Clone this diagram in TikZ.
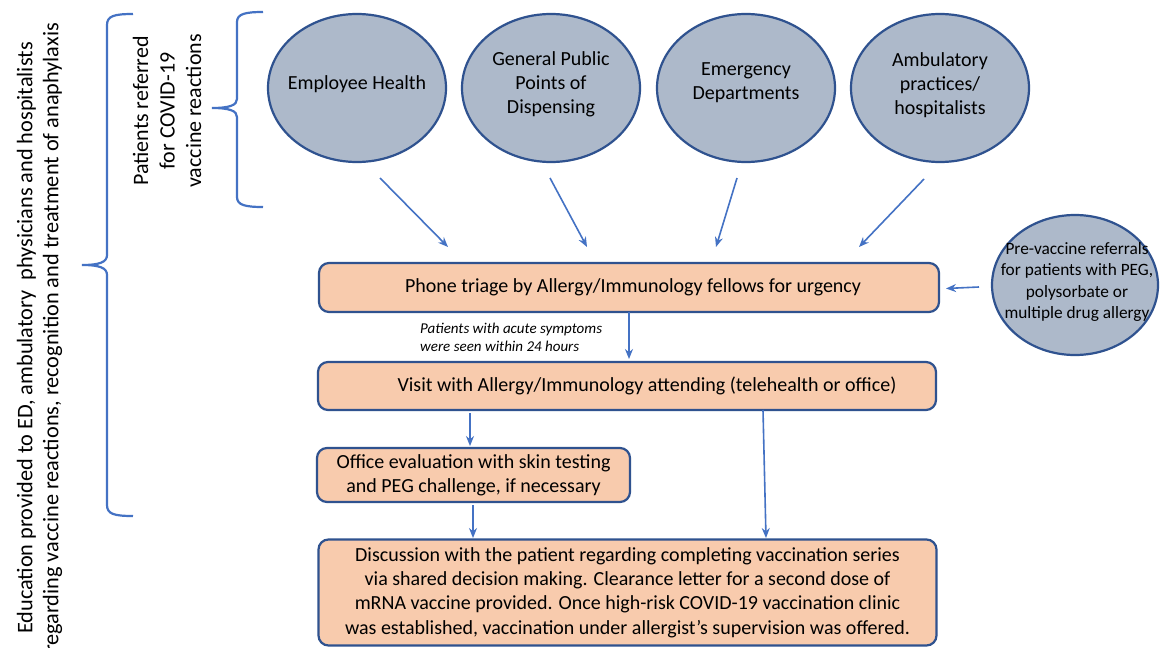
\documentclass[tikz,border=0pt]{standalone}
\usepackage{fontspec}
\setmainfont{Carlito}
\usetikzlibrary{shapes.geometric,arrows.meta}
\definecolor{ellfill}{HTML}{ADB9CA}
\definecolor{edgeblue}{HTML}{2F528F}
\definecolor{boxfill}{HTML}{F8CBAD}
\definecolor{arrblue}{HTML}{4472C4}
\begin{document}
\begin{tikzpicture}[x=1pt,y=-1pt,
  src/.style={ellipse,draw=edgeblue,line width=2.2pt,fill=ellfill,minimum width=178pt,minimum height=148pt,inner sep=0pt},
  srctext/.style={align=center,inner sep=0pt,font=\fontsize{20}{24}\selectfont},
  stepbox/.style={rectangle,rounded corners=10pt,draw=edgeblue,line width=2.2pt,fill=boxfill,inner sep=0pt,align=center,font=\fontsize{20}{24.3}\selectfont},
  arr/.style={draw=arrblue,line width=1.6pt,-{Stealth[length=10pt,width=8pt]}},
  brace/.style={draw=arrblue,line width=2.2pt}
]
\useasboundingbox (0,0) rectangle (1160,648);
\fill[white] (0,0) rectangle (1160,648);

% left texts
\node[rotate=90,align=center,inner sep=0pt,font=\fontsize{22.3}{26}\selectfont] (edu) at (39.5,338)
  {Education provided to ED, ambulatory\ \ physicians and hospitalists\\regarding vaccine reactions, recognition and treatment of anaphylaxis};
\node[rotate=90,align=center,inner sep=0pt,font=\fontsize{22}{26.5}\selectfont] (pat) at (167,111)
  {Patients referred\\for COVID-19\\vaccine reactions};

% braces
\draw[brace] (133,14) .. controls (114,14) and (107,16) .. (107,25) -- (107,255)
  .. controls (107,262) and (100,265) .. (82,265)
  .. controls (100,265) and (107,268) .. (107,275) -- (107,505)
  .. controls (107,514) and (114,516) .. (133,516);
\draw[brace] (263,12) .. controls (245,12) and (237,14) .. (237,22) -- (237,99)
  .. controls (237,105) and (230,108) .. (212,108)
  .. controls (230,108) and (237,111) .. (237,117) -- (237,197)
  .. controls (237,205) and (245,207) .. (263,207);

% source ellipses
\node[src] (eh) at (357,88) {};
\node[srctext] (ehT) at (357,84) {Employee Health};
\node[src] (gp) at (551,88) {};
\node[srctext] (gpT) at (551,84) {General Public\\Points of\\Dispensing};
\node[src] (ed) at (746,88) {};
\node[srctext] (edT) at (746,83) {Emergency\\Departments};
\node[src] (ap) at (940,88) {};
\node[srctext] (apT) at (940,85.5) {Ambulatory\\practices/\\hospitalists};
\node[src,minimum width=166pt,minimum height=140pt] (pre) at (1075,285) {};
\node[srctext,font=\fontsize{17.3}{21.5}\selectfont] (preT) at (1077,282)
  {Pre-vaccine referrals\\for patients with PEG,\\polysorbate or\\multiple drug allergy};

% boxes
\node[stepbox,minimum width=620pt,minimum height=49pt] (phone) at (629,287.5)
  {\hspace*{8pt}Phone triage by Allergy/Immunology fellows for urgency};
\node[stepbox,minimum width=618pt,minimum height=48pt] (visit) at (627,386)
  {\hspace*{40pt}Visit with Allergy/Immunology attending (telehealth or office)};
\node[stepbox,minimum width=313pt,minimum height=54pt] (office) at (473.5,475)
  {Office evaluation with skin testing\\and PEG challenge, if necessary};
\node[stepbox,minimum width=618pt,minimum height=106pt] (disc) at (627.5,592.5)
  {Discussion with the patient regarding completing vaccination series\\via shared decision making. Clearance letter for a second dose of\\mRNA vaccine provided. Once high-risk COVID-19 vaccination clinic\\was established, vaccination under allergist’s supervision was offered.};

\node[align=left,anchor=west,inner sep=0pt,font=\itshape\fontsize{15}{17.5}\selectfont] (note) at (420,337.5)
  {Patients with acute symptoms\\were seen within 24 hours};

% connectors
\coordinate (a1s) at (380,178); \coordinate (a1e) at (448,247);
\coordinate (a2s) at (550,178); \coordinate (a2e) at (587,247);
\coordinate (a3s) at (737,178); \coordinate (a3e) at (716,247);
\coordinate (a4s) at (924,179); \coordinate (a4e) at (859,247);
\draw[arr] (a1s) -- (a1e);
\draw[arr] (a2s) -- (a2e);
\draw[arr] (a3s) -- (a3e);
\draw[arr] (a4s) -- (a4e);
\coordinate (p1) at (979,287); \coordinate (p2) at (946,288.5);
\draw[arr] (p1) -- (p2);
\coordinate (t1) at (629,312); \coordinate (t2) at (629,359);
\draw[arr] (t1) -- (t2);
\coordinate (v1) at (470,413); \coordinate (v2) at (470,446);
\draw[arr] (v1) -- (v2);
\coordinate (o1) at (473,505); \coordinate (o2) at (473,538);
\draw[arr] (o1) -- (o2);
\coordinate (w1) at (763,410); \coordinate (w2) at (766,538);
\draw[arr] (w1) -- (w2);
\end{tikzpicture}
\end{document}
